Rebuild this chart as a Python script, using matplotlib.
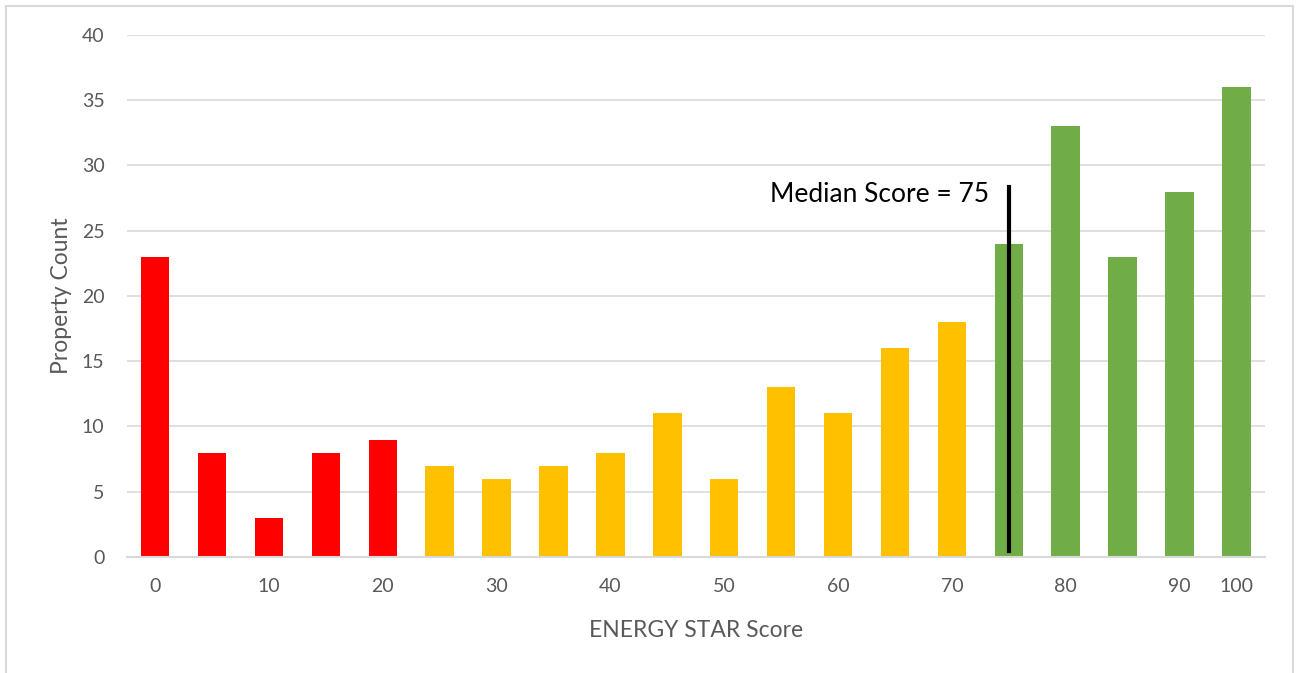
import matplotlib
matplotlib.use("Agg")
import matplotlib.pyplot as plt
from matplotlib.patches import Rectangle

# data
counts = [23, 8, 3, 8, 9, 7, 6, 7, 8, 11, 6, 13, 11, 16, 18, 24, 33, 23, 28, 36]
colors = ['#FF0000'] * 5 + ['#FFC000'] * 10 + ['#70AD47'] * 5
tick_labels = ['0', '', '10', '', '20', '', '30', '', '40', '', '50', '', '60', '', '70', '', '80', '', '90', '100']
median_pos = 15
median_top = 28.35
median_text = 'Median Score = 75'

plt.rcParams['font.family'] = ['Lato', 'DejaVu Sans']

fig = plt.figure(figsize=(12.96, 6.73), dpi=100)
ax = fig.add_axes([0.0977, 0.1724, 0.8783, 0.7756])

x = list(range(len(counts)))
ax.bar(x, counts, width=0.5, color=colors, zorder=2)

ax.plot([median_pos, median_pos], [0.45, median_top], color='black', linewidth=3, zorder=3)
ax.text(14.65, 27.8, median_text, ha='right', va='center', fontsize=19, color='black')

ax.set_xlim(-0.5, 19.5)
ax.set_ylim(0, 40)
ax.set_yticks(range(0, 41, 5))
ax.set_xticks(x)
ax.set_xticklabels(tick_labels)
ax.tick_params(axis='both', length=0, labelsize=14, labelcolor='#595959')
ax.tick_params(axis='x', pad=15)
ax.tick_params(axis='y', pad=16)
ax.yaxis.grid(True, color='#D9D9D9', linewidth=1.2, zorder=0)
ax.set_axisbelow(True)
for s in ['top', 'right', 'left']:
    ax.spines[s].set_visible(False)
ax.spines['bottom'].set_color('#D9D9D9')
ax.spines['bottom'].set_linewidth(1.5)

ax.set_ylabel('Property Count', fontsize=16.5, color='#595959', labelpad=7)
ax.set_xlabel('ENERGY STAR Score', fontsize=16.5, color='#595959', labelpad=18)

# outer frame
fig.patches.append(Rectangle((6 / 1296, -0.01), 1287 / 1296, 1 - 6 / 673 + 0.01,
                             transform=fig.transFigure, fill=False,
                             edgecolor='#D9D9D9', linewidth=1.5))

fig.savefig('out.png', dpi=100)
